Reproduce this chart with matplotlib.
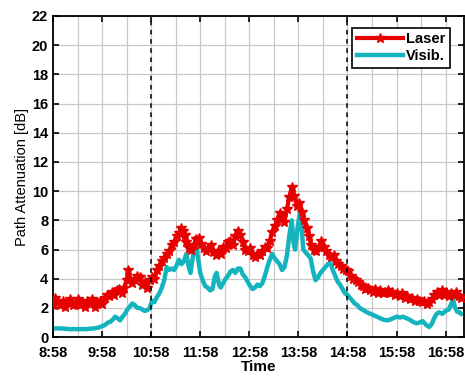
import matplotlib
matplotlib.use("Agg")
import matplotlib.pyplot as plt
from matplotlib.ticker import MultipleLocator

# minutes after 8:58
laser_t = [0, 3, 6, 9, 12, 15, 18, 21, 24, 27, 30, 33, 36, 39, 42, 45, 48, 51, 54, 57,
           60, 63, 66, 69, 72, 75, 78, 81, 84, 87, 90, 92, 94, 97, 100, 103, 106, 109, 112, 115,
           118, 121, 124, 127, 130, 133, 136, 139, 142, 145, 148, 151, 154, 157, 159, 161, 163, 166, 169, 172,
           175, 178, 181, 184, 187, 190, 193, 196, 199, 202, 205, 208, 211, 214, 217, 220, 223, 226, 229, 232,
           235, 238, 241, 244, 247, 250, 253, 256, 259, 262, 265, 268, 271, 274, 277, 280, 283, 286, 289, 292,
           295, 298, 301, 304, 307, 310, 313, 316, 319, 322, 325, 328, 331, 334, 337, 340, 343, 346, 349, 352,
           355, 358, 361, 364, 367, 370, 373, 376, 379, 382, 385, 388, 391, 394, 397, 400, 403, 406, 409, 412,
           415, 418, 421, 424, 427, 430, 433, 436, 439, 442, 445, 448, 451, 454, 457, 460, 463, 466, 469, 472,
           475, 478, 481, 484, 487, 490, 493, 496, 499]
laser = [2.2, 2.7, 2.4, 2.2, 2.5, 2.1, 2.4, 2.6, 2.2, 2.3, 2.6, 2.2, 2.4, 2.1, 2.5, 2.3, 2.6, 2.1, 2.4, 2.5,
         2.3, 2.7, 2.9, 2.8, 3.1, 2.9, 3.2, 3.3, 3.0, 3.4, 3.9, 4.6, 4.0, 3.7, 3.9, 4.2, 4.1, 3.6, 3.8, 3.4,
         3.9, 4.1, 4.0, 4.6, 4.9, 5.2, 5.4, 5.7, 5.9, 6.3, 6.5, 6.9, 7.1, 7.5, 7.3, 7.0, 6.5, 6.1, 6.0, 6.3,
         6.7, 6.8, 6.4, 6.1, 5.9, 6.1, 6.3, 5.8, 5.6, 5.9, 5.7, 6.2, 6.1, 6.5, 6.6, 6.3, 6.9, 7.3, 7.0, 6.5,
         6.0, 5.9, 6.1, 5.6, 5.5, 5.7, 5.6, 5.9, 6.2, 6.1, 6.6, 7.2, 7.6, 8.0, 8.5, 8.2, 7.9, 8.8, 9.6, 10.3,
         9.7, 9.0, 9.2, 8.6, 8.0, 7.5, 6.9, 6.3, 6.0, 5.9, 6.2, 6.6, 6.2, 5.9, 5.6, 5.5, 5.6, 5.2, 5.0, 4.9,
         4.7, 4.6, 4.5, 4.2, 4.0, 3.9, 3.8, 3.6, 3.5, 3.3, 3.4, 3.2, 3.1, 3.3, 3.0, 3.2, 3.0, 3.1, 3.2, 3.0,
         3.1, 2.9, 3.0, 2.8, 3.0, 2.7, 2.8, 2.6, 2.7, 2.5, 2.6, 2.5, 2.4, 2.5, 2.3, 2.4, 2.6, 2.9, 3.1, 2.9,
         3.2, 2.9, 3.1, 2.8, 3.0, 2.9, 3.1, 2.8, 2.7]

visib_t = [0, 10, 20, 30, 40, 50, 55, 60, 64, 67, 70, 73, 76, 79, 82, 85, 88, 91, 94, 97,
           100, 103, 106, 109, 112, 115, 118, 121, 124, 127, 130, 133, 136, 139, 142, 145, 148, 151, 154, 157,
           160, 163, 166, 168, 171, 174, 175, 177, 180, 183, 186, 189, 192, 195, 198, 200, 203, 205, 208, 211,
           214, 217, 220, 223, 226, 229, 232, 235, 238, 241, 244, 247, 250, 253, 256, 259, 262, 265, 268, 271,
           274, 277, 280, 283, 286, 289, 292, 294, 296, 299, 302, 304, 306, 309, 312, 315, 318, 321, 324, 327,
           330, 333, 336, 339, 342, 345, 348, 351, 354, 357, 360, 363, 366, 369, 372, 375, 378, 381, 384, 388,
           392, 396, 400, 404, 408, 412, 416, 420, 424, 428, 432, 436, 440, 444, 448, 452, 456, 460, 463, 466,
           469, 472, 476, 480, 484, 487, 489, 491, 494, 497, 499]
visib = [0.6, 0.6, 0.55, 0.55, 0.55, 0.6, 0.65, 0.75, 0.85, 1.0, 1.05, 1.2, 1.4, 1.3, 1.15, 1.4, 1.6, 1.9, 2.1, 2.3,
         2.2, 2.0, 2.0, 1.9, 1.8, 1.85, 1.95, 2.5, 2.4, 2.75, 3.0, 3.4, 3.9, 4.8, 4.6, 4.7, 4.6, 4.9, 5.3, 5.0,
         5.2, 5.7, 4.8, 4.4, 5.5, 6.3, 6.5, 5.5, 4.4, 3.9, 3.5, 3.4, 3.2, 3.3, 4.2, 4.4, 3.6, 3.4, 3.7, 4.0,
         4.2, 4.5, 4.6, 4.4, 4.7, 4.7, 4.3, 4.1, 3.8, 3.5, 3.3, 3.4, 3.6, 3.5, 3.7, 4.2, 4.8, 5.3, 5.7, 5.4,
         5.2, 5.0, 4.6, 4.8, 5.6, 7.0, 8.0, 6.5, 6.0, 7.5, 8.6, 7.5, 6.0, 5.8, 5.6, 5.4, 4.5, 3.9, 4.1, 4.4,
         4.6, 4.8, 5.0, 5.1, 4.6, 4.2, 3.8, 3.6, 3.3, 3.0, 2.9, 2.7, 2.5, 2.3, 2.2, 2.0, 1.9, 1.8, 1.7, 1.6,
         1.5, 1.4, 1.3, 1.2, 1.15, 1.2, 1.3, 1.4, 1.35, 1.4, 1.3, 1.2, 1.05, 0.95, 1.0, 1.1, 0.85, 0.7, 0.9, 1.3,
         1.6, 1.7, 1.6, 1.8, 1.9, 2.3, 2.65, 2.1, 1.75, 1.7, 1.6]

tick_labels = ["8:58", "9:58", "10:58", "11:58", "12:58", "13:58", "14:58", "15:58", "16:58"]
events = [120, 360]

plt.rcParams['font.family'] = ['Liberation Sans', 'DejaVu Sans']

fig = plt.figure(figsize=(4.65, 3.78), dpi=100)
ax = fig.add_axes([0.114, 0.108, 0.883, 0.85])

ax.plot(laser_t, laser, color="#e60000", linewidth=3, marker="*", markersize=7,
        markeredgewidth=1, label="Laser", zorder=3)
ax.plot(visib_t, visib, color="#14b4be", linewidth=3.2, label="Visib.", zorder=2)
for e in events:
    ax.axvline(e, color="k", linestyle="--", linewidth=1.1, dashes=(3, 3), zorder=4)

ax.set_xlim(0, 502)
ax.set_ylim(0, 22)
ax.set_xticks([60 * i for i in range(len(tick_labels))])
ax.set_xticklabels(tick_labels)
ax.xaxis.set_minor_locator(MultipleLocator(30))
ax.yaxis.set_major_locator(MultipleLocator(2))
ax.grid(True, which="both", color="#c8c8c8", linewidth=0.9)
ax.set_axisbelow(True)
ax.tick_params(which="both", direction="in", top=True, right=True, labelsize=10.5)
ax.tick_params(which="major", length=4, width=1.2)
ax.tick_params(axis="x", which="major", pad=6)
ax.tick_params(which="minor", length=0)
for lab in ax.get_xticklabels() + ax.get_yticklabels():
    lab.set_fontweight("bold")
for s in ax.spines.values():
    s.set_linewidth(1.3)

ax.set_xlabel("Time", fontsize=11, fontweight="bold", labelpad=0)
ax.set_ylabel("Path Attenuation [dB]", fontsize=10.5, labelpad=2)

leg = ax.legend(loc="upper right", handlelength=3.2, handletextpad=0.2, borderpad=0.3,
                labelspacing=0.2, fancybox=False, framealpha=1, edgecolor="k",
                prop={"weight": "bold", "size": 10.5}, bbox_to_anchor=(0.985, 0.985))
leg.get_frame().set_linewidth(1.2)

fig.savefig("out.png", dpi=100)
